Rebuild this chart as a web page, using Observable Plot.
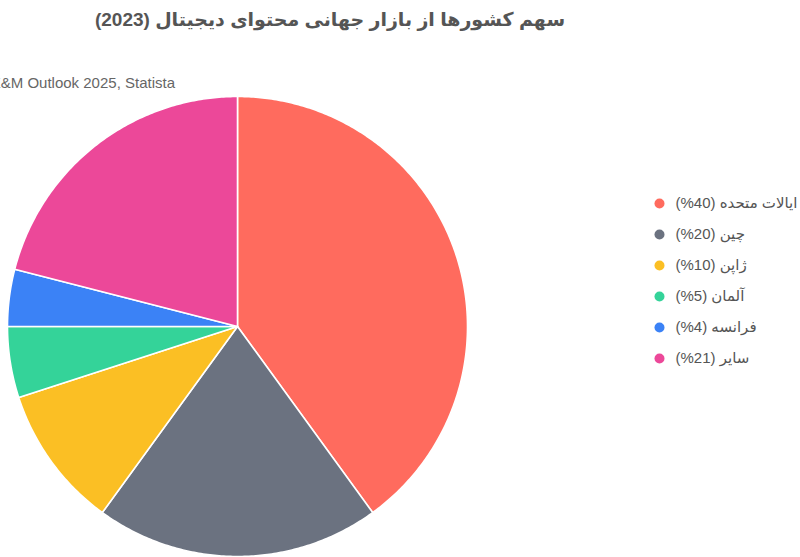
<!DOCTYPE html>
<html>
<head>
<meta charset="utf-8">
<script src="https://cdn.jsdelivr.net/npm/d3@7"></script>
<script src="https://cdn.jsdelivr.net/npm/@observablehq/plot@0.6"></script>
<style>
  html, body { margin: 0; padding: 0; background: #fff; width: 800px; height: 557px; overflow: hidden; }
  body { position: relative; font-family: "Liberation Sans", Arial, "DejaVu Sans", sans-serif; }
  #header { position: relative; height: 95px; }
  #title { position: absolute; top: 8px; left: 0; width: 660px; text-align: center; font-weight: bold; font-size: 19px; color: #555; white-space: nowrap; }
  #subtitle { position: absolute; top: 74px; right: 625px; font-size: 15px; color: #666; white-space: nowrap; }
  #pie { position: absolute; top: 95px; left: 0; }
  #legend { position: absolute; top: 186px; left: 645px; }
</style>
</head>
<body>
<div id="header">
  <div id="title" dir="rtl"></div>
  <div id="subtitle"></div>
</div>
<div id="pie"></div>
<div id="legend"></div>
<script>
const titleText = "سهم کشورها از بازار جهانی محتوای دیجیتال (2023)";
const subtitleText = "Source: PwC Global E&M Outlook 2025, Statista";
const countries = ["ایالات متحده", "چین", "ژاپن", "آلمان", "فرانسه", "سایر"];
const shares = [40, 20, 10, 5, 4, 21];
const colors = ["#FF6B5E", "#6B7280", "#FBBF24", "#34D399", "#3B82F6", "#EC4899"];

document.getElementById("title").textContent = titleText;
document.getElementById("subtitle").textContent = subtitleText;

const rows = countries.map((name, i) => ({name, value: shares[i]}));
const arcs = d3.pie().sort(null).value(d => d.value)(rows);

// polygon outline of each slice in unit-circle data space
const pts = [];
arcs.forEach(a => {
  const name = a.data.name;
  pts.push({name, x: 0, y: 0});
  const n = Math.max(2, Math.ceil((a.endAngle - a.startAngle) / 0.01));
  for (let k = 0; k <= n; k++) {
    const t = a.startAngle + (a.endAngle - a.startAngle) * k / n;
    pts.push({name, x: Math.sin(t), y: Math.cos(t)});
  }
  pts.push({name, x: 0, y: 0});
});

const colorScale = {domain: countries, range: colors};

const pie = Plot.plot({
  width: 800,
  height: 462,
  margin: 0,
  x: {domain: [-1, 1], range: [7, 467], axis: null},
  y: {domain: [-1, 1], range: [461, 1], axis: null},
  color: colorScale,
  marks: [
    Plot.line(pts, {x: "x", y: "y", z: "name", fill: "name", stroke: "white", strokeWidth: 1.6, strokeLinejoin: "round", curve: "linear"})
  ]
});
document.getElementById("pie").appendChild(pie);

const legendRows = rows.map(d => ({name: d.name, label: "(%" + d.value + ") \u2067" + d.name + "\u2069"}));

const legend = Plot.plot({
  width: 155,
  height: 190,
  margin: 0,
  y: {domain: countries, type: "point", padding: 0, range: [15, 173], axis: null},
  color: colorScale,
  marks: [
    Plot.dot(legendRows, {y: "name", fill: "name", r: 5, frameAnchor: "left", dx: 14}),
    Plot.text(legendRows, {y: "name", text: "label", frameAnchor: "left", dx: 30, textAnchor: "start", fontSize: 15, fill: "#555", fontFamily: "Liberation Sans, Arial, DejaVu Sans, sans-serif"})
  ]
});
document.getElementById("legend").appendChild(legend);
</script>
</body>
</html>
